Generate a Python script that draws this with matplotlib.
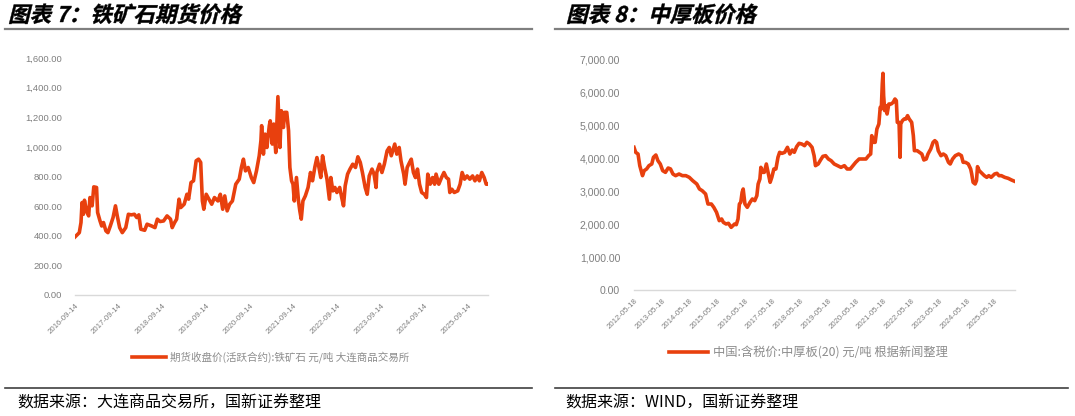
import matplotlib
matplotlib.use("Agg")
import matplotlib.pyplot as plt
import matplotlib.dates as mdates
import matplotlib.ticker as mticker
from matplotlib.textpath import TextPath
from matplotlib.patches import PathPatch
from matplotlib.font_manager import FontProperties
from matplotlib.transforms import Affine2D
from matplotlib.lines import Line2D
import pandas as pd

plt.rcParams['font.family'] = ['Noto Sans CJK SC', 'DejaVu Sans']

# 图表7 铁矿石期货收盘价（活跃合约）
ore_dates = [
    '2016-09-14', '2016-10-20', '2016-11-03', '2016-11-12', '2016-11-23', '2016-12-02', '2016-12-19',
    '2017-01-06', '2017-01-17', '2017-02-04', '2017-02-18', '2017-03-13', '2017-03-22', '2017-04-11',
    '2017-04-25', '2017-05-10', '2017-05-30', '2017-06-16', '2017-07-06', '2017-07-29', '2017-08-18',
    '2017-09-02', '2017-09-22', '2017-10-14', '2017-11-12', '2017-12-04', '2017-12-28',
    '2018-01-23', '2018-02-12', '2018-03-01', '2018-03-18', '2018-04-19', '2018-05-09', '2018-06-16',
    '2018-07-14', '2018-08-03', '2018-08-26', '2018-09-24', '2018-10-23', '2018-11-21', '2018-12-05',
    '2018-12-25', '2019-01-11', '2019-01-31', '2019-02-14', '2019-03-15', '2019-04-07', '2019-04-21',
    '2019-05-11', '2019-06-01', '2019-06-23', '2019-07-13', '2019-07-31', '2019-08-14', '2019-08-26',
    '2019-09-15', '2019-10-08', '2019-10-31', '2019-11-23', '2019-12-22', '2020-01-11', '2020-01-31',
    '2020-02-17', '2020-03-08', '2020-03-29', '2020-04-21', '2020-05-19', '2020-06-17', '2020-07-05',
    '2020-07-22', '2020-08-08', '2020-08-31', '2020-09-26', '2020-10-16', '2020-11-08', '2020-12-01',
    '2020-12-15', '2020-12-21', '2021-01-05', '2021-01-19', '2021-02-03', '2021-02-23', '2021-03-03',
    '2021-03-20', '2021-04-01', '2021-04-18', '2021-05-06', '2021-05-23', '2021-06-04', '2021-06-21',
    '2021-07-02', '2021-07-19', '2021-08-03', '2021-08-14', '2021-08-28', '2021-09-09', '2021-09-20',
    '2021-10-08', '2021-10-25', '2021-11-05', '2021-11-17', '2021-12-01', '2021-12-21', '2022-01-13',
    '2022-02-02', '2022-02-19', '2022-03-11', '2022-03-28', '2022-04-14', '2022-04-29', '2022-05-14',
    '2022-05-31', '2022-06-20', '2022-07-10', '2022-07-22', '2022-08-08', '2022-08-25', '2022-09-11',
    '2022-10-04', '2022-10-21', '2022-11-05', '2022-11-19', '2022-12-09', '2022-12-29', '2023-01-21',
    '2023-02-13', '2023-03-05', '2023-03-25', '2023-04-12', '2023-05-05', '2023-05-22', '2023-06-08',
    '2023-07-01', '2023-07-18', '2023-08-04', '2023-08-10', '2023-09-02', '2023-09-22', '2023-10-12',
    '2023-11-04', '2023-11-22', '2023-12-09', '2023-12-26', '2024-01-07', '2024-01-24', '2024-02-13',
    '2024-02-28', '2024-03-22', '2024-04-02', '2024-04-20', '2024-05-10', '2024-05-24', '2024-06-11',
    '2024-06-28', '2024-07-15', '2024-08-01', '2024-08-19', '2024-09-10', '2024-09-28', '2024-10-09',
    '2024-10-29', '2024-11-18', '2024-12-05', '2024-12-17', '2025-01-09', '2025-02-01', '2025-02-21',
    '2025-03-13', '2025-03-31', '2025-04-11', '2025-04-28', '2025-05-18', '2025-06-16', '2025-07-06',
    '2025-07-23', '2025-08-12', '2025-09-02', '2025-09-25', '2025-10-18', '2025-11-07', '2025-11-27',
    '2025-12-14', '2026-01-03', '2026-01-23', '2026-02-09', '2026-02-20',
]
ore_price = [
    392, 421, 489, 624, 545, 640, 568,
    534, 658, 602, 730, 726, 557, 500,
    466, 489, 433, 421, 466, 523, 602,
    534, 455, 421, 455, 545, 541,
    545, 523, 541, 444, 437, 478, 466,
    455, 512, 496, 500, 534, 512, 455,
    489, 512, 647, 590, 613, 680, 647,
    759, 771, 906, 917, 895, 635, 579,
    680, 647, 613, 658, 635, 680, 579,
    669, 568, 613, 635, 748, 782, 861,
    917, 838, 861, 793, 759, 838, 940,
    1041, 1143, 951, 1086, 996, 1143, 1176,
    1019, 1154, 962, 1339, 996, 1244, 1131,
    1233, 1233, 1109, 861, 771, 748, 635,
    793, 635, 568, 512, 635, 669, 726,
    827, 771, 865, 928, 861, 793, 940,
    861, 782, 647, 793, 703, 726, 692,
    726, 658, 602, 737, 816, 850, 883,
    861, 933, 895, 827, 726, 680, 804,
    850, 816, 726, 827, 883, 827, 883,
    973, 996, 940, 985, 1019, 951, 996,
    906, 816, 748, 861, 895, 917, 827,
    793, 850, 748, 692, 680, 658, 816,
    748, 793, 748, 816, 748, 793, 827,
    793, 782, 692, 714, 692, 703, 748,
    827, 782, 804, 782, 804, 771, 804,
    771, 827, 793, 748, 748,
]
ore_ticks = ['2016-09-14', '2017-09-14', '2018-09-14', '2019-09-14', '2020-09-14',
             '2021-09-14', '2022-09-14', '2023-09-14', '2024-09-14', '2025-09-14']

# 图表8 中厚板含税价
plate_dates = [
    '2012-05-18', '2012-06-09', '2012-07-10', '2012-08-02', '2012-09-07', '2012-09-29', '2012-10-31',
    '2012-12-01', '2013-01-07', '2013-01-29', '2013-03-02', '2013-03-29', '2013-04-29', '2013-05-31',
    '2013-07-06', '2013-08-11', '2013-09-11', '2013-10-13', '2013-11-17', '2014-01-01', '2014-02-15',
    '2014-04-01', '2014-05-16', '2014-06-30', '2014-08-23', '2014-09-27', '2014-11-02', '2014-12-17',
    '2015-01-17', '2015-03-03', '2015-04-04', '2015-05-10', '2015-06-15', '2015-07-16', '2015-08-08',
    '2015-09-13', '2015-10-14', '2015-11-19', '2015-12-12', '2016-01-03', '2016-01-25', '2016-02-17',
    '2016-03-06', '2016-03-24', '2016-04-11', '2016-04-25', '2016-05-18', '2016-06-18', '2016-07-24',
    '2016-08-24', '2016-09-24', '2016-10-22', '2016-11-08', '2016-12-01', '2016-12-14', '2017-01-05',
    '2017-01-28', '2017-02-24', '2017-03-23', '2017-04-15', '2017-05-07', '2017-06-03', '2017-06-30',
    '2017-07-27', '2017-08-18', '2017-09-18', '2017-10-24', '2017-11-29', '2017-12-31', '2018-01-31',
    '2018-02-27', '2018-03-30', '2018-05-01', '2018-06-06', '2018-07-12', '2018-08-12', '2018-09-13',
    '2018-10-19', '2018-11-15', '2018-12-03', '2019-01-08', '2019-02-08', '2019-03-11', '2019-04-16',
    '2019-05-22', '2019-06-27', '2019-08-07', '2019-09-21', '2019-11-04', '2019-12-19', '2020-01-24',
    '2020-03-05', '2020-04-10', '2020-05-16', '2020-06-30', '2020-08-14', '2020-09-28', '2020-11-02',
    '2020-11-29', '2020-12-13', '2021-01-05', '2021-01-27', '2021-02-19', '2021-03-17', '2021-04-04',
    '2021-04-18', '2021-05-01', '2021-05-10', '2021-05-19', '2021-06-02', '2021-06-20', '2021-07-03',
    '2021-07-26', '2021-08-26', '2021-09-22', '2021-10-15', '2021-11-02', '2021-11-15', '2021-12-08',
    '2021-12-21', '2021-12-30', '2022-01-21', '2022-02-13', '2022-03-07', '2022-03-30', '2022-04-21',
    '2022-05-23', '2022-06-14', '2022-06-28', '2022-08-03', '2022-09-03', '2022-10-04', '2022-10-31',
    '2022-12-01', '2022-12-24', '2023-01-29', '2023-03-01', '2023-03-24', '2023-04-16', '2023-05-08',
    '2023-06-13', '2023-07-14', '2023-08-15', '2023-09-20', '2023-10-13', '2023-11-13', '2023-12-19',
    '2024-02-01', '2024-03-08', '2024-03-31', '2024-05-01', '2024-06-07', '2024-07-08', '2024-07-22',
    '2024-08-09', '2024-09-05', '2024-09-23', '2024-10-06', '2024-10-29', '2024-11-20', '2024-12-12',
    '2025-01-04', '2025-02-05', '2025-03-04', '2025-04-04', '2025-04-26', '2025-05-19', '2025-06-19',
    '2025-07-16', '2025-08-16', '2025-09-30', '2025-11-14', '2025-12-28', '2026-02-08',
]
plate_price = [
    4342, 4190, 4139, 3784, 3480, 3632, 3683,
    3784, 3835, 4038, 4109, 3936, 3835, 3632,
    3581, 3713, 3683, 3530, 3480, 3530, 3480,
    3480, 3429, 3328, 3226, 3074, 3023, 2922,
    2617, 2617, 2516, 2364, 2110, 2161, 2059,
    2009, 2029, 1907, 1958, 2009, 1988, 2161,
    2617, 2668, 2972, 3074, 2617, 2516, 2668,
    2770, 2719, 2871, 3226, 3378, 3733, 3581,
    3581, 3835, 3530, 3277, 3429, 3683, 3683,
    4038, 4190, 4159, 4190, 4342, 4139, 4261,
    4190, 4362, 4464, 4443, 4393, 4494, 4443,
    4342, 4088, 3784, 3835, 3957, 4068, 4088,
    3987, 3936, 3835, 3784, 3733, 3784, 3683,
    3683, 3784, 3886, 3987, 3987, 3987, 4088,
    4139, 4697, 4494, 4494, 4900, 5052, 5559,
    5508, 6270, 6594, 5914, 5458, 5610, 5356,
    5661, 5661, 5712, 5813, 5762, 5103, 5103,
    4038, 5052, 5154, 5204, 5204, 5306, 5204,
    5103, 4697, 4241, 4241, 4190, 4139, 3957,
    3987, 4139, 4291, 4494, 4545, 4494, 4241,
    4088, 4139, 4088, 3886, 3835, 3987, 4088,
    4139, 4088, 3886, 3886, 3835, 3683, 3530,
    3277, 3226, 3328, 3754, 3632, 3581, 3530,
    3480, 3429, 3480, 3429, 3480, 3530, 3551,
    3480, 3480, 3429, 3399, 3348, 3307,
]
plate_ticks = ['2012-05-18', '2013-05-18', '2014-05-18', '2015-05-18', '2016-05-18', '2017-05-18',
               '2018-05-18', '2019-05-18', '2020-05-18', '2021-05-18', '2022-05-18', '2023-05-18',
               '2024-05-18', '2025-05-18']

W, H = 1075, 416
LINE_C = '#E8400E'
TICK_C = '#7F7F7F'

fig = plt.figure(figsize=(W / 100, H / 100), dpi=100)


def px_box(l, t, r, b):
    return [l / W, 1 - b / H, (r - l) / W, (b - t) / H]


def slanted_title(x, y, s):
    fp = FontProperties(family='Noto Sans CJK SC', weight='bold', size=15.5)
    tp = TextPath((0, 0), s, prop=fp)
    tr = Affine2D().skew_deg(14, 0).scale(100 / 72).translate(x, H - y)
    fig.add_artist(PathPatch(tp, transform=tr, facecolor='black', edgecolor='black', lw=0.3))


def hline(x0, x1, y, color, lw):
    fig.add_artist(Line2D([x0 / W, x1 / W], [1 - y / H, 1 - y / H], color=color, lw=lw,
                          transform=fig.transFigure))


def panel(box, dates, vals, ticks, xmax, ymax, ystep, fs_y, fs_x, ypad, leg_text, leg_x, leg_y, leg_fs):
    ax = fig.add_axes(px_box(*box))
    x = pd.to_datetime(dates)
    ax.plot(x, vals, color=LINE_C, lw=2.6, solid_joinstyle='round', label=leg_text)
    ax.set_xlim(pd.Timestamp(ticks[0]), pd.Timestamp(xmax))
    ax.set_ylim(0, ymax)
    ax.yaxis.set_major_locator(mticker.MultipleLocator(ystep))
    ax.yaxis.set_major_formatter(mticker.FuncFormatter(lambda v, p: f'{v:,.2f}'))
    ax.set_xticks(pd.to_datetime(ticks))
    ax.xaxis.set_major_formatter(mdates.DateFormatter('%Y-%m-%d'))
    for s in ['top', 'right', 'left']:
        ax.spines[s].set_visible(False)
    ax.spines['bottom'].set_color('#D9D9D9')
    ax.spines['bottom'].set_linewidth(1.0)
    ax.tick_params(length=0, colors=TICK_C)
    ax.tick_params(axis='y', pad=ypad, labelsize=fs_y)
    ax.tick_params(axis='x', pad=5, labelsize=fs_x)
    for lab in ax.get_yticklabels():
        lab.set_family(['Liberation Sans', 'DejaVu Sans'])
    for lab in ax.get_xticklabels():
        lab.set_family(['Liberation Sans', 'DejaVu Sans'])
        lab.set_rotation(45)
        lab.set_ha('right')
        lab.set_rotation_mode('anchor')
    ax.legend(loc='center', bbox_to_anchor=(leg_x / W, 1 - leg_y / H), bbox_transform=fig.transFigure,
              frameon=False, handlelength=3.2, handletextpad=0.4, fontsize=leg_fs,
              labelcolor='#8C8C8C')
    return ax


panel((75, 58, 488, 295), ore_dates, ore_price, ore_ticks, '2026-02-24', 1600, 200, 6.8, 5.6, 9,
      '期货收盘价(活跃合约):铁矿石 元/吨 大连商品交易所', 271, 357, 7.6)
panel((634, 60, 1015, 290), plate_dates, plate_price, plate_ticks, '2026-02-12', 7000, 1000, 7.6, 5.6, 10,
      '中国:含税价:中厚板(20) 元/吨 根据新闻整理', 808, 353, 8.8)

slanted_title(8, 22, '图表 7：铁矿石期货价格')
slanted_title(566, 22, '图表 8：中厚板价格')
hline(5, 532, 29, '#7F7F7F', 1.6)
hline(555, 1068, 29, '#7F7F7F', 1.6)
hline(5, 532, 388, '#404040', 1.2)
hline(555, 1068, 388, '#404040', 1.2)

fig.text(17 / W, 1 - 403 / H, '数据来源：大连商品交易所，国新证券整理', fontsize=11.5, va='center', color='black')
fig.text(565 / W, 1 - 403 / H, '数据来源：WIND，国新证券整理', fontsize=11.5, va='center', color='black')

fig.savefig('out.png', dpi=100)
